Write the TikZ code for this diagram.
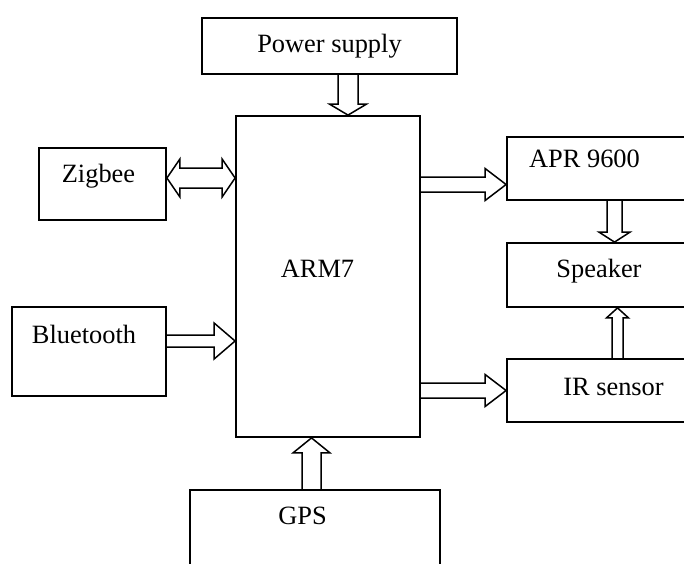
\documentclass[tikz,border=0pt]{standalone}
\usepackage{fontspec}
\setmainfont{Liberation Serif}
\usepackage{tikz}
\usetikzlibrary{calc}

\tikzset{
  box/.style={draw, line width=0.9pt, inner sep=0pt},
  lbl/.style={anchor=base, inner sep=0pt, font=\fontsize{13.2pt}{15pt}\selectfont},
  arrowline/.style={line width=0.75pt, line join=miter}
}

% block arrow: tail, tip, shaft half width, head half width, head length
\newcommand{\blockarrow}[5]{%
  \coordinate (hb) at ($(#2)!#5!(#1)$);
  \draw[arrowline] ($(#1)!#3!90:(#2)$) -- ($(hb)!#3!-90:(#1)$) -- ($(hb)!#4!-90:(#1)$)
    -- (#2) -- ($(hb)!#4!90:(#1)$) -- ($(hb)!#3!90:(#1)$) -- ($(#1)!#3!-90:(#2)$);
}
% block arrow with two heads
\newcommand{\dblblockarrow}[5]{%
  \coordinate (hba) at ($(#1)!#5!(#2)$);
  \coordinate (hbb) at ($(#2)!#5!(#1)$);
  \draw[arrowline] (#1) -- ($(hba)!#4!90:(#2)$) -- ($(hba)!#3!90:(#2)$)
    -- ($(hbb)!#3!-90:(#1)$) -- ($(hbb)!#4!-90:(#1)$) -- (#2)
    -- ($(hbb)!#4!90:(#1)$) -- ($(hbb)!#3!90:(#1)$)
    -- ($(hba)!#3!-90:(#2)$) -- ($(hba)!#4!-90:(#2)$) -- cycle;
}

\begin{document}
\begin{tikzpicture}[x=0.5pt, y=-0.5pt]
    \useasboundingbox (0,0) rectangle (684,563);
    \clip (0,0) rectangle (684,563);

    % draw boxes
    \node[box, minimum width=127.5pt, minimum height=28pt] (psu) at (329.5,46) {};
    \node[box, minimum width=92pt, minimum height=160.5pt] (arm) at (328,276.5) {};
    \node[box, minimum width=63.5pt, minimum height=36pt] (zig) at (102.5,184) {};
    \node[box, minimum width=77pt, minimum height=44.5pt] (bt) at (89,351.5) {};
    \node[box, minimum width=125pt, minimum height=55pt] (gps) at (315,545) {};
    \node[box, minimum width=106.5pt, minimum height=31.5pt] (apr) at (613.5,168.5) {};
    \node[box, minimum width=106.5pt, minimum height=32pt] (spk) at (613.5,275) {};
    \node[box, minimum width=106.5pt, minimum height=31.5pt] (ir) at (613.5,390.5) {};

    % draw labels
    \node[lbl] (psutxt) at (329.5,52) {Power supply};
    \node[lbl] (armtxt) at (317.5,277) {ARM7};
    \node[lbl] (zigtxt) at (98.5,182) {Zigbee};
    \node[lbl] (bttxt) at (84,343) {Bluetooth};
    \node[lbl] (gpstxt) at (302.5,524) {GPS};
    \node[lbl] (aprtxt) at (584.5,167) {APR 9600};
    \node[lbl] (spktxt) at (599,277) {Speaker};
    \node[lbl] (irtxt) at (613.5,395) {IR sensor};

    % arrow end points
    \coordinate (psin) at ([xshift=10pt]arm.north);
    \coordinate (psout) at (psu.south -| psin);
    \coordinate (zigout) at ([yshift=3pt]zig.east);
    \coordinate (zigin) at (arm.west |- zigout);
    \coordinate (btout) at ([yshift=5.25pt]bt.east);
    \coordinate (btin) at (arm.west |- btout);
    \coordinate (gpsout) at ([xshift=-1.75pt]gps.north);
    \coordinate (gpsin) at (arm.south -| gpsout);
    \coordinate (aprin) at ([yshift=-8pt]apr.west);
    \coordinate (armout1) at (arm.east |- aprin);
    \coordinate (irin) at (ir.west);
    \coordinate (armout2) at (arm.east |- irin);
    \coordinate (aprout) at ([xshift=0.5pt]apr.south);
    \coordinate (spkin1) at (spk.north -| aprout);
    \coordinate (irout) at ([xshift=2pt]ir.north);
    \coordinate (spkin2) at (spk.south -| irout);

    % draw arrows
    \blockarrow{psout}{psin}{5pt}{9.25pt}{5.5pt}
    \dblblockarrow{zigout}{zigin}{5pt}{9.5pt}{6.5pt}
    \blockarrow{btout}{btin}{3pt}{9pt}{10.5pt}
    \blockarrow{gpsout}{gpsin}{4.75pt}{9.25pt}{7.5pt}
    \blockarrow{armout1}{aprin}{3.75pt}{8pt}{10.5pt}
    \blockarrow{armout2}{irin}{3.75pt}{8pt}{10.5pt}
    \blockarrow{aprout}{spkin1}{3.75pt}{7.75pt}{5pt}
    \blockarrow{irout}{spkin2}{2.75pt}{5.5pt}{5pt}

\end{tikzpicture}
\end{document}
